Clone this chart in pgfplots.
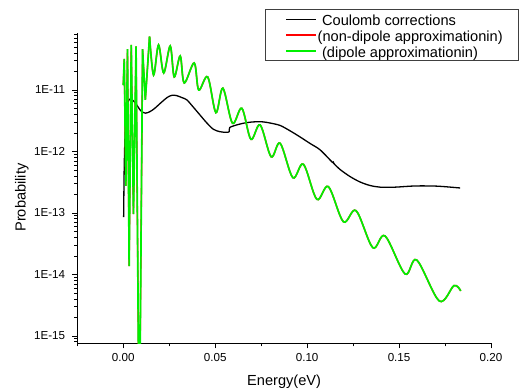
\documentclass[border=0pt]{standalone}
\usepackage{fontspec}
\setmainfont{Liberation Sans}
\usepackage{pgfplots}
\usepackage{pgfplotstable}
\pgfplotsset{compat=1.18}
\definecolor{mygreen}{RGB}{0,240,0}
\definecolor{myred}{RGB}{255,0,0}
\newcommand{\ls}{\rule[-3.6pt]{0pt}{17.6pt}}

\pgfplotstableread{
x y
0.0002 8.6e-14
0.0005 5.2e-13
0.0010 2.0e-12
0.0018 5.0e-12
0.0030 6.8e-12
0.0045 7.1e-12
0.0070 5.9e-12
0.0095 4.6e-12
0.0120 4.2e-12
0.0145 4.45e-12
0.0170 5.0e-12
0.0210 6.4e-12
0.0240 7.6e-12
0.0265 8.2e-12
0.0290 8.1e-12
0.0320 7.5e-12
0.0346 6.9e-12
0.0380 5.3e-12
0.0418 3.9e-12
0.0455 2.9e-12
0.0490 2.3e-12
0.0525 2.1e-12
0.0560 2.05e-12
0.0576 2.1e-12
0.0579 2.45e-12
0.0620 2.72e-12
0.0672 2.95e-12
0.0720 3.04e-12
0.0760 3.03e-12
0.0799 2.9e-12
0.0853 2.65e-12
0.0908 2.16e-12
0.0962 1.72e-12
0.1016 1.35e-12
0.1071 1.06e-12
0.1139 6.6e-13
0.1141 6.9e-13
0.1143 6.5e-13
0.1179 5.1e-13
0.1234 3.9e-13
0.1288 3.19e-13
0.1342 2.8e-13
0.1397 2.63e-13
0.1478 2.63e-13
0.1587 2.75e-13
0.1707 2.73e-13
0.1832 2.55e-13
}\blackdata

\pgfplotstableread{
x y
0.0000 1.2e-11
0.00054 3.2e-11
0.0014 2.75e-13
0.0023 4.6e-11
0.0032 1.37e-14
0.00435 5.4e-11
0.00554 9.6e-14
0.00696 5.1e-11
0.0087 1e-17
0.0105 4.6e-11
0.0120 6.9e-12
0.01429 7.36e-11
}\spikedata

\pgfplotstableread{
x y
0.01429 7.36e-11
0.01647 1.75e-11
0.01918 5.4e-11
0.0220 1.89e-11
0.02554 5.19e-11
0.02772 1.63e-11
0.03098 3.57e-11
0.03315 1.30e-11
0.03859 2.75e-11
0.04103 1.0e-11
0.04592 1.63e-11
0.05038 4.28e-12
0.05418 1.07e-11
0.0594 2.88e-12
0.06451 5.04e-12
0.0694 1.58e-12
0.07446 2.70e-12
0.08043 8.2e-13
0.08533 1.36e-12
0.09223 3.75e-13
0.09799 6.19e-13
0.10527 1.67e-13
0.11158 2.68e-13
0.11973 7.2e-14
0.12663 1.09e-13
0.13571 2.73e-14
0.14239 4.23e-14
0.15326 1.02e-14
0.15962 1.72e-14
0.1719 3.7e-15
0.17989 6.6e-15
0.18353 5.4e-15
}\smoothdata

\begin{document}
\begin{tikzpicture}
\useasboundingbox (-77.3pt,-46.7pt) rectangle (442.7pt,343.3pt);
\begin{axis}[
  width=413.7pt, height=310pt, scale only axis,
  xmin=-0.025, xmax=0.2,
  ymode=log, ymin=7.6e-16, ymax=8.35e-11,
  axis x line*=bottom, axis y line*=left,
  axis line style={-, line width=1pt},
  tick align=outside, major tick length=5pt, minor tick length=3pt,
  every tick/.append style={black, line width=0.9pt},
  xtick={0,0.05,0.1,0.15,0.2},
  xticklabels={0.00,0.05,0.10,0.15,0.20},
  minor xtick={-0.025,0.025,0.075,0.125,0.175},
  ytick={1e-15,1e-14,1e-13,1e-12,1e-11},
  yticklabels={1E-15,1E-14,1E-13,1E-12,1E-11},
  minor ytick={8e-16,9e-16,2e-15,3e-15,4e-15,5e-15,6e-15,7e-15,8e-15,9e-15,2e-14,3e-14,4e-14,5e-14,6e-14,7e-14,8e-14,9e-14,2e-13,3e-13,4e-13,5e-13,6e-13,7e-13,8e-13,9e-13,2e-12,3e-12,4e-12,5e-12,6e-12,7e-12,8e-12,9e-12,2e-11,3e-11,4e-11,5e-11,6e-11,7e-11,8e-11},
  ticklabel style={font=\fontsize{11.6}{13}\selectfont},
  xticklabel style={anchor=north, inner sep=0pt, yshift=-5pt},
  yticklabel style={anchor=east, inner sep=0pt, xshift=-7pt},
  xlabel={Energy(eV)}, ylabel={Probability},
  label style={font=\fontsize{14.6}{17}\selectfont},
  xlabel style={at={(axis description cs:0.5,-0.1361)}, anchor=base},
  ylabel style={at={(axis description cs:-0.1252,0.470)}, anchor=base},
  legend cell align=left,
  legend style={at={(axis description cs:0.4537,1.0784)}, anchor=north west,
    draw=black!75, line width=0.8pt, fill=white, inner xsep=15pt, inner ysep=1.8pt,
    font=\fontsize{14.6}{17}\selectfont, nodes={inner xsep=1pt, inner ysep=0.2pt}, row sep=0pt},
  legend image code/.code={\draw[#1] (0pt,0pt) (5pt,0pt) -- (35pt,0pt);},
]
\addplot[black, line width=1.3pt, smooth, tension=0.5, forget plot] table[x=x,y=y] {\blackdata};
\addplot[myred, line width=1.4pt, forget plot] table[x=x,y=y] {\spikedata};
\addplot[myred, line width=1.5pt, smooth, tension=0.55, forget plot] table[x=x,y=y] {\smoothdata};
\addplot[mygreen, line width=1.7pt, forget plot] table[x=x,y=y] {\spikedata};
\addplot[mygreen, line width=1.7pt, smooth, tension=0.55, forget plot] table[x=x,y=y] {\smoothdata};
\addlegendimage{draw=black, line width=1.1pt}
\addlegendentry{\hspace{4.4pt}Coulomb corrections\ls}
\addlegendimage{draw=red, color=red, line width=1.3pt}
\addlegendentry{(non-dipole approximationin)\ls}
\addlegendimage{draw=mygreen, line width=1.1pt}
\addlegendentry{\hspace{4.4pt}(dipole approximationin)\ls}
\end{axis}
\end{tikzpicture}
\end{document}
